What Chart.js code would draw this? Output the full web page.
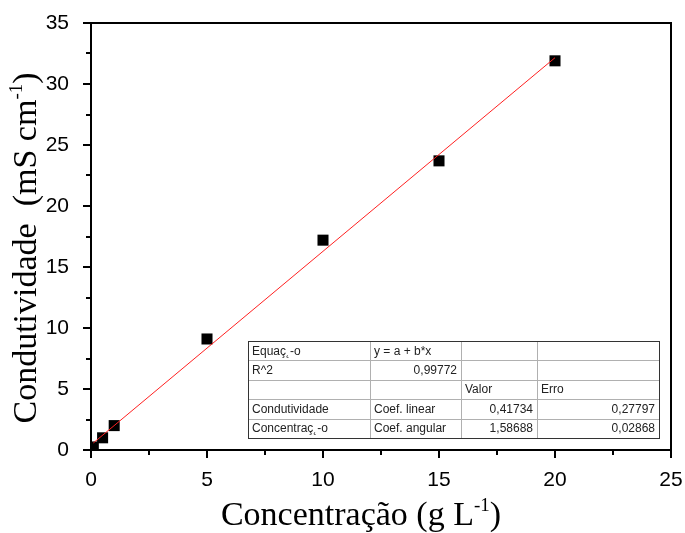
<!DOCTYPE html>
<html>
<head>
<meta charset="utf-8">
<script src="https://cdn.jsdelivr.net/npm/chart.js@4.4.1/dist/chart.umd.min.js"></script>
<style>
  html, body { margin: 0; padding: 0; background: #fff; }
  #wrap { width: 685px; height: 533px; }
</style>
</head>
<body>
<div id="wrap"><canvas id="chart" width="685" height="533"></canvas></div>
<script>
// dados
const concentracao = [0.1, 0.5, 1, 5, 10, 15, 20];
const condutividade = [0.25, 1.0, 2.0, 9.1, 17.2, 23.7, 31.9];

// ajuste linear (da tabela)
const intercepto = 0.41734;
const inclinacao = 1.58688;
const ajusteX = [0.1, 20];

const xTicks = [0, 5, 10, 15, 20, 25];
const yTicks = [0, 5, 10, 15, 20, 25, 30, 35];

// tabela de resultados
const tabelaLinhas = [
    ['Equaç\u02db\u2011o', 'y = a + b*x', '', ''],
    ['R^2', '0,99772', '', ''],
    ['', '', 'Valor', 'Erro'],
    ['Condutividade', 'Coef. linear', '0,41734', '0,27797'],
    ['Concentraç\u02db\u2011o', 'Coef. angular', '1,58688', '0,02868']
];

const ajusteData = ajusteX.map(x => ({ x: x, y: intercepto + inclinacao * x }));
const pontosData = concentracao.map((x, i) => ({ x: x, y: condutividade[i] }));

// escreve texto com expoente "-1" antes do último caractere
function textoComExpoente(ctx, antes, depois, cx, cy, tamanho) {
    const fonte = tamanho + 'px "Liberation Serif"';
    const fonteSup = Math.round(tamanho * 0.55) + 'px "Liberation Serif"';
    ctx.font = fonte;
    const w1 = ctx.measureText(antes).width;
    const w2 = ctx.measureText(depois).width;
    ctx.font = fonteSup;
    const ws = ctx.measureText('-1').width;
    const sx = cx - (w1 + ws + w2) / 2;
    ctx.textAlign = 'left';
    ctx.font = fonte;
    ctx.fillText(antes, sx, cy);
    ctx.font = fonteSup;
    ctx.fillText('-1', sx + w1, cy - tamanho * 0.42);
    ctx.font = fonte;
    ctx.fillText(depois, sx + w1 + ws, cy);
}

// desenha moldura, ticks, títulos e tabela
const molduraPlugin = {
    id: 'moldura',
    afterDraw(chart) {
        const ctx = chart.ctx;
        const a = chart.chartArea;
        const xs = chart.scales.x;
        const ys = chart.scales.y;
        ctx.save();
        ctx.strokeStyle = '#000';
        ctx.lineWidth = 2;
        ctx.strokeRect(a.left, a.top, a.right - a.left, a.bottom - a.top);

        ctx.beginPath();
        // ticks do eixo x
        for (let v = 0; v <= 25; v += 2.5) {
            const px = Math.round(xs.getPixelForValue(v));
            const len = (v % 5 === 0) ? 8 : 5;
            ctx.moveTo(px, a.bottom);
            ctx.lineTo(px, a.bottom + len);
        }
        // ticks do eixo y
        for (let v = 0; v <= 35; v += 2.5) {
            const py = Math.round(ys.getPixelForValue(v));
            const len = (v % 5 === 0) ? 8 : 5;
            ctx.moveTo(a.left, py);
            ctx.lineTo(a.left - len, py);
        }
        ctx.stroke();

        // títulos dos eixos
        ctx.fillStyle = '#000';
        ctx.textBaseline = 'alphabetic';
        textoComExpoente(ctx, 'Concentração (g L', ')', 361, 525, 34);

        ctx.save();
        ctx.translate(36, 248);
        ctx.rotate(-Math.PI / 2);
        textoComExpoente(ctx, 'Condutividade  (mS cm', ')', 0, 0, 34);
        ctx.restore();

        // tabela
        const tx = 248, ty = 341, tw = 411;
        const colX = [248, 370, 461, 537, 659];
        const rowH = 19.4;
        ctx.fillStyle = '#fff';
        ctx.fillRect(tx, ty, tw, rowH * 5);
        ctx.lineWidth = 1;
        ctx.strokeStyle = '#b0b0b0';
        ctx.beginPath();
        for (let r = 1; r < 5; r++) {
            const yy = Math.round(ty + r * rowH) + 0.5;
            ctx.moveTo(tx, yy);
            ctx.lineTo(tx + tw, yy);
        }
        for (let c = 1; c < 4; c++) {
            ctx.moveTo(colX[c] + 0.5, ty);
            ctx.lineTo(colX[c] + 0.5, ty + rowH * 5);
        }
        ctx.stroke();
        ctx.strokeStyle = '#333';
        ctx.strokeRect(tx + 0.5, ty + 0.5, tw, Math.round(rowH * 5));

        ctx.font = '12px "Liberation Sans"';
        ctx.fillStyle = '#222';
        ctx.textBaseline = 'middle';
        tabelaLinhas.forEach((linha, r) => {
            const yy = ty + r * rowH + rowH / 2 + 0.5;
            linha.forEach((txt, c) => {
                if (!txt) return;
                const numero = /^[0-9]/.test(txt);
                if (numero) {
                    ctx.textAlign = 'right';
                    ctx.fillText(txt, colX[c + 1] - 4, yy);
                } else {
                    ctx.textAlign = 'left';
                    ctx.fillText(txt, colX[c] + 4, yy);
                }
            });
        });
        ctx.restore();
    }
};

new Chart(document.getElementById('chart'), {
    type: 'scatter',
    data: {
        datasets: [
            {
                type: 'line',
                label: 'Ajuste',
                data: ajusteData,
                borderColor: '#ff2020',
                borderWidth: 1,
                pointRadius: 0,
                fill: false
            },
            {
                label: 'Condutividade',
                data: pontosData,
                pointStyle: 'rect',
                pointRadius: 7.8,
                backgroundColor: '#000',
                borderColor: '#000',
                borderWidth: 0
            }
        ]
    },
    options: {
        responsive: false,
        animation: false,
        layout: { padding: { left: 0, top: 23, right: 14, bottom: 0 } },
        plugins: { legend: { display: false }, tooltip: { enabled: false } },
        scales: {
            x: {
                type: 'linear',
                min: 0, max: 25,
                afterFit(scale) {
                    scale.height = 83;
                    scale.paddingLeft = 0;
                    scale.paddingRight = 0;
                },
                afterBuildTicks(scale) { scale.ticks = xTicks.map(v => ({ value: v })); },
                grid: { display: false },
                border: { display: false },
                ticks: {
                    padding: 10,
                    color: '#000',
                    font: { family: 'Liberation Sans', size: 21 },
                    maxRotation: 0
                }
            },
            y: {
                type: 'linear',
                min: 0, max: 35,
                afterFit(scale) {
                    scale.width = 91;
                    scale.paddingTop = 0;
                    scale.paddingBottom = 0;
                },
                afterBuildTicks(scale) { scale.ticks = yTicks.map(v => ({ value: v })); },
                grid: { display: false },
                border: { display: false },
                ticks: {
                    padding: 14,
                    color: '#000',
                    font: { family: 'Liberation Sans', size: 21 }
                }
            }
        }
    },
    plugins: [molduraPlugin]
});
</script>
</body>
</html>
